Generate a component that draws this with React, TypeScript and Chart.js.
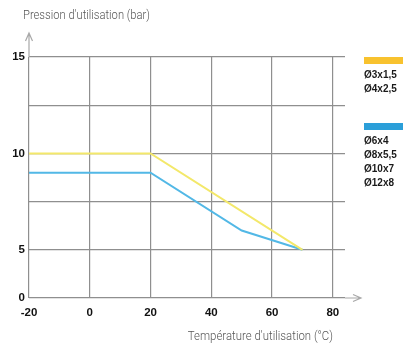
import React, { useEffect, useRef } from "react";
import { Chart, registerables } from "chart.js";

Chart.register(...registerables);

// Data
const yellowTemps = [-20, 20, 70];
const yellowPressures = [10, 10, 5];
const blueTemps = [-20, 20, 50, 70];
const bluePressures = [9, 9, 6, 5];

const xTickValues = [-20, 0, 20, 40, 60, 80];
const xTickLabels = ["-20", "0", "20", "40", "60", "80"];
// broken axis: lowest gridline stands for 0
const yTickValues = [2.5, 5, 7.5, 10, 12.5, 15];
const yTickLabels = ["0", "5", "", "10", "", "15"];

const yellowLegend = ["Ø3x1,5", "Ø4x2,5"];
const blueLegend = ["Ø6x4", "Ø8x5,5", "Ø10x7", "Ø12x8"];

const yAxisTitle = "Pression d'utilisation (bar)";
const xAxisTitle = "Température d'utilisation (°C)";

const YELLOW_LINE = "#f3e86a";
const BLUE_LINE = "#52b8e6";
const YELLOW_KEY = "#f8c22e";
const BLUE_KEY = "#2b9fd9";
const GRID = "#8f8f8f";

const LIGHT_FONT = '300 13px "Roboto", sans-serif';
const BOLD_FONT = 'bold 10px "Liberation Sans", sans-serif';

function fittedText(ctx: any, text: string, x: number, y: number, align: string, width: number) {
  const k = width / ctx.measureText(text).width;
  ctx.save();
  ctx.translate(x, y);
  ctx.scale(k, 1);
  ctx.textAlign = align;
  ctx.fillText(text, 0, 0);
  ctx.restore();
}

const decorPlugin = {
  id: "decor",
  afterDraw(chart: any) {
    const { ctx, chartArea, scales } = chart;
    const x = scales.x;
    const y = scales.y;
    const x0 = x.getPixelForValue(-20);
    const yBottom = y.getPixelForValue(2.5);
    ctx.save();
    // y arrow
    ctx.strokeStyle = "#a8a8a8";
    ctx.lineWidth = 1.2;
    ctx.beginPath();
    ctx.moveTo(x0, chartArea.top);
    ctx.lineTo(x0, chartArea.top - 24);
    ctx.moveTo(x0 - 3.5, chartArea.top - 16);
    ctx.lineTo(x0, chartArea.top - 24);
    ctx.lineTo(x0 + 3.5, chartArea.top - 16);
    ctx.stroke();
    // x arrow
    ctx.beginPath();
    ctx.moveTo(chartArea.right, yBottom);
    ctx.lineTo(chartArea.right + 16, yBottom);
    ctx.moveTo(chartArea.right + 8, yBottom - 3.5);
    ctx.lineTo(chartArea.right + 16, yBottom);
    ctx.lineTo(chartArea.right + 8, yBottom + 3.5);
    ctx.stroke();
    // titles
    ctx.fillStyle = "#555";
    ctx.font = LIGHT_FONT;
    ctx.textBaseline = "middle";
    fittedText(ctx, yAxisTitle, x0 - 6, 16, "left", 127);
    fittedText(ctx, xAxisTitle, x.getPixelForValue(80), 337, "right", 145);
    // legend
    const lx = chartArea.right + 19;
    ctx.textAlign = "left";
    ctx.font = BOLD_FONT;
    ctx.fillStyle = YELLOW_KEY;
    ctx.fillRect(lx, 57, 60, 7);
    ctx.fillStyle = "#1a1a1a";
    yellowLegend.forEach((t, i) => ctx.fillText(t, lx, 75 + i * 14));
    ctx.fillStyle = BLUE_KEY;
    ctx.fillRect(lx, 123, 60, 7);
    ctx.fillStyle = "#1a1a1a";
    blueLegend.forEach((t, i) => ctx.fillText(t, lx, 141 + i * 14));
    ctx.restore();
  },
};

export default function App() {
  const ref = useRef<HTMLCanvasElement>(null);
  useEffect(() => {
    if (!ref.current) return;
    const chart = new Chart(ref.current, {
      type: "line",
      data: {
        datasets: [
          {
            data: yellowTemps.map((t, i) => ({ x: t, y: yellowPressures[i] })),
            borderColor: YELLOW_LINE,
            borderWidth: 2,
            pointRadius: 0,
            tension: 0,
          },
          {
            data: blueTemps.map((t, i) => ({ x: t, y: bluePressures[i] })),
            borderColor: BLUE_LINE,
            borderWidth: 2,
            pointRadius: 0,
            tension: 0,
          },
        ],
      },
      options: {
        responsive: false,
        animation: false,
        layout: { padding: { top: 57, right: 58, left: 0, bottom: 0 } },
        plugins: { legend: { display: false }, tooltip: { enabled: false } },
        scales: {
          x: {
            type: "linear",
            min: -20,
            max: 84,
            afterBuildTicks: (s: any) => {
              s.ticks = xTickValues.map((v) => ({ value: v }));
            },
            afterFit: (s: any) => {
              s.height = 46;
            },
            ticks: {
              callback: (v: any) => xTickLabels[xTickValues.indexOf(Number(v))] ?? "",
              color: "#111",
              font: { family: '"Liberation Sans", sans-serif', weight: "bold", size: 11.5 },
              padding: 8,
              maxRotation: 0,
            },
            grid: { color: GRID, lineWidth: 1.2, drawTicks: false },
            border: { display: false },
          },
          y: {
            type: "linear",
            min: 2.5,
            max: 15,
            afterBuildTicks: (s: any) => {
              s.ticks = yTickValues.map((v) => ({ value: v }));
            },
            afterFit: (s: any) => {
              s.width = 29;
            },
            ticks: {
              callback: (v: any) => yTickLabels[yTickValues.indexOf(Number(v))] ?? "",
              color: "#111",
              font: { family: '"Liberation Sans", sans-serif', weight: "bold", size: 11.5 },
              padding: 4,
            },
            grid: { color: GRID, lineWidth: 1.2, drawTicks: false },
            border: { display: false },
          },
        },
      },
      plugins: [decorPlugin],
    } as any);
    return () => chart.destroy();
  }, []);
  return (
    <div style={{ position: "absolute", left: 0, top: 0, width: 403, height: 344, background: "#fff" }}>
      <canvas ref={ref} width={403} height={344} />
    </div>
  );
}
